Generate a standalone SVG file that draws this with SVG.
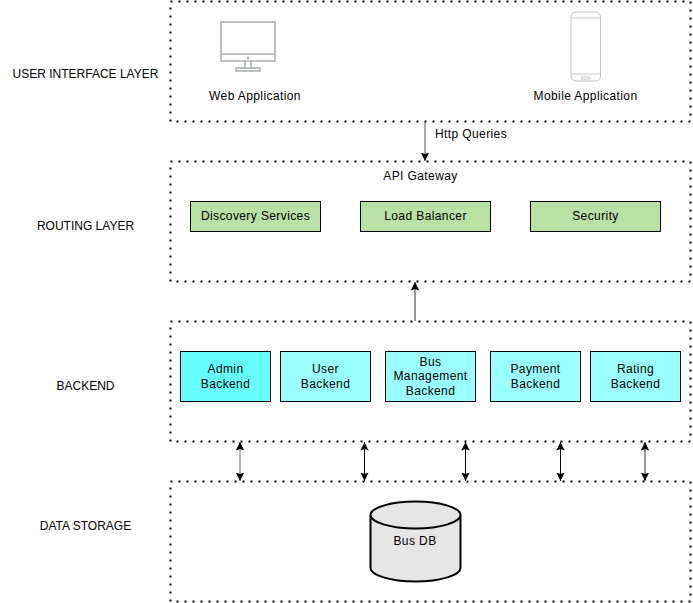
<svg xmlns="http://www.w3.org/2000/svg" width="693" height="603" viewBox="0 0 693 603">
<defs>
<marker id="ah" viewBox="0 0 9 9" refX="8.500" refY="4.500" markerWidth="9" markerHeight="9" markerUnits="userSpaceOnUse" orient="auto-start-reverse"><path d="M0 0.300L8.500 4.500L0 8.700L1.500 4.500Z" fill="#000"/></marker>
</defs>
<style>
text{font-family:"Liberation Sans",Arial,sans-serif;font-size:12px;letter-spacing:.4px;fill:#000;text-anchor:middle}
text.cap{letter-spacing:0}
.layer{fill:#fff;stroke:#000;stroke-width:2;stroke-dasharray:2 6}
.g{fill:#b9e0a5;stroke:#000}
.c{fill:#99ffff;stroke:#000}
.icon{fill:#fff;stroke:#a6acac;stroke-width:1.500}
.con{fill:none;stroke:#000;stroke-width:1;marker-end:url(#ah)}
.both{marker-start:url(#ah)}
.ph{fill:none;stroke:#c0c0c0}
</style>
<rect width="693" height="603" fill="#fff"/>
<g id="layer-ui"><rect class="layer" x="170.500" y="1.500" width="520" height="120"/><text class="cap" x="85.500" y="78">USER INTERFACE LAYER</text></g>
<g id="layer-routing"><rect class="layer" x="170.500" y="161.500" width="520" height="120"/><text class="cap" x="85.500" y="230">ROUTING LAYER</text><text x="420.500" y="180">API Gateway</text></g>
<g id="layer-backend"><rect class="layer" x="170.500" y="321.500" width="520" height="120"/><text class="cap" x="85.500" y="390">BACKEND</text></g>
<g id="layer-data"><rect class="layer" x="170.500" y="481.500" width="520" height="120"/><text class="cap" x="85.500" y="530">DATA STORAGE</text></g>
<g id="web-app">
<rect class="icon" x="221" y="22" width="54" height="39"/><path class="icon" d="M221 54H275M245 61V68M251 61V68"/><rect class="icon" x="236" y="68" width="24" height="3"/><rect x="247" y="57" width="2" height="2" fill="#a6acac"/>
<text x="255" y="100">Web Application</text></g>
<g id="mobile-app">
<rect class="ph" x="571" y="12" width="29.500" height="69" rx="5" style="fill:#fff"/><path class="ph" d="M571 18H600.500M571 74H600.500"/><rect class="ph" x="581" y="77" width="9" height="2" rx="1"/>
<text x="585.500" y="100">Mobile Application</text></g>
<g id="discovery"><rect class="g" x="190.500" y="201.500" width="130" height="30"/><text x="255.500" y="220">Discovery Services</text></g>
<g id="load-balancer"><rect class="g" x="360.500" y="201.500" width="130" height="30"/><text x="425.500" y="220">Load Balancer</text></g>
<g id="security"><rect class="g" x="530.500" y="201.500" width="130" height="30"/><text x="595.500" y="220">Security</text></g>
<g id="admin"><rect x="180.500" y="351.500" width="90" height="50" fill="#66ffff" stroke="#000"/><text x="225.500" y="373">Admin</text><text x="225.500" y="388">Backend</text></g>
<g id="user"><rect class="c" x="280.500" y="351.500" width="90" height="50"/><text x="325.500" y="373">User</text><text x="325.500" y="388">Backend</text></g>
<g id="bus"><rect class="c" x="385.500" y="351.500" width="90" height="50"/><text x="430.500" y="366">Bus</text><text x="430.500" y="380">Management</text><text x="430.500" y="395">Backend</text></g>
<g id="payment"><rect class="c" x="490.500" y="351.500" width="90" height="50"/><text x="535.500" y="373">Payment</text><text x="535.500" y="388">Backend</text></g>
<g id="rating"><rect class="c" x="590.500" y="351.500" width="90" height="50"/><text x="635.500" y="373">Rating</text><text x="635.500" y="388">Backend</text></g>
<g id="bus-db"><path d="M370.500 515V568C370.500 575 390 581.500 415.500 581.500S460.500 575 460.500 568V515C460.500 508 441 501.500 415.500 501.500S370.500 508 370.500 515C370.500 522 390 528.500 415.500 528.500S460.500 522 460.500 515" fill="#e6e6e6" stroke="#000" stroke-width="2"/><text x="415" y="545">Bus DB</text></g>
<g id="connectors">
<path class="con" d="M425 122V161" style="stroke:#555"/>
<path class="con" d="M415 321V282" style="stroke:#333"/>
<path class="con both" d="M240 442V481" style="stroke:#666"/>
<path class="con both" d="M364.500 442V481"/>
<path class="con both" d="M465.500 442V481"/>
<path class="con both" d="M560.500 442V481"/>
<path class="con both" d="M645 442V481" style="stroke:#333"/>
</g>
<text x="471" y="138">Http Queries</text>
</svg>
